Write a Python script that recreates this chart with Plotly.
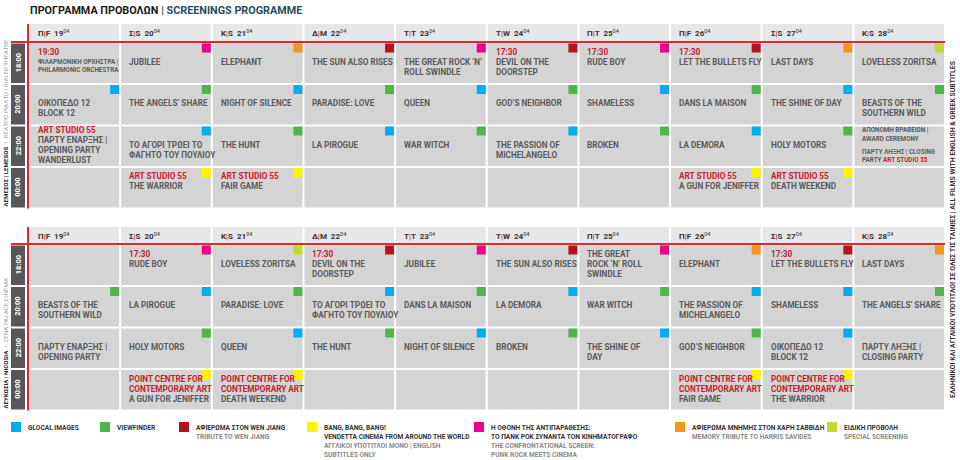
import plotly.graph_objects as go

# ---------------- DATA ----------------
day_abbr = ["Π|F", "Σ|S", "Κ|S", "Δ|M", "Τ|T", "Τ|W", "Π|T", "Π|F", "Σ|S", "Κ|S"]
day_num = ["19", "20", "21", "22", "23", "24", "25", "26", "27", "28"]
month = "04"
times = ["18:00", "20:00", "22:00", "00:00"]

title_gr = "ΠΡΟΓΡΑΜΜΑ ΠΡΟΒΟΛΩΝ"
title_en = "SCREENINGS PROGRAMME"

venue_top = ("ΛΕΜΕΣΟΣ | LEMESOS", "ΘΕΑΤΡΟ ΡΙΑΛΤΟ | RIALTO THEATRE")
venue_bot = ("ΛΕΥΚΩΣΙΑ | NICOSIA", "ZENA PALACE CINEMA")
side_note = "ΕΛΛΗΝΙΚΟΙ ΚΑΙ ΑΓΓΛΙΚΟΙ ΥΠΟΤΙΤΛΟΙ ΣΕ ΟΛΕΣ ΤΙΣ ΤΑΙΝΙΕΣ | ALL FILMS WITH ENGLISH & GREEK SUBTITLES"

# Limassol (top table): red lead line, title, section tag
top_red = [
    ["19:30", "", "", "", "", "17:30", "17:30", "17:30", "", ""],
    ["", "", "", "", "", "", "", "", "", ""],
    ["ART STUDIO 55", "", "", "", "", "", "", "", "", ""],
    ["", "ART STUDIO 55", "ART STUDIO 55", "", "", "", "", "ART STUDIO 55", "ART STUDIO 55", ""],
]
top_title = [
    ["ΦΙΛΑΡΜΟΝΙΚΗ ΟΡΧΗΣΤΡΑ |\nPHILARMONIC ORCHESTRA", "JUBILEE", "ELEPHANT", "THE SUN ALSO RISES",
     "THE GREAT ROCK ‘N’\nROLL SWINDLE", "DEVIL ON THE\nDOORSTEP", "RUDE BOY", "LET THE BULLETS FLY",
     "LAST DAYS", "LOVELESS ZORITSA"],
    ["ΟΙΚΟΠΕΔΟ 12\nBLOCK 12", "THE ANGELS’ SHARE", "NIGHT OF SILENCE", "PARADISE: LOVE", "QUEEN",
     "GOD’S NEIGHBOR", "SHAMELESS", "DANS LA MAISON", "THE SHINE OF DAY", "BEASTS OF THE\nSOUTHERN WILD"],
    ["ΠΑΡΤΥ ΕΝΑΡΞΗΣ |\nOPENING PARTY\nWANDERLUST", "ΤΟ ΑΓΟΡΙ ΤΡΩΕΙ ΤΟ\nΦΑΓΗΤΟ ΤΟΥ ΠΟΥΛΙΟΥ", "THE HUNT",
     "LA PIROGUE", "WAR WITCH", "THE PASSION OF\nMICHELANGELO", "BROKEN", "LA DEMORA", "HOLY MOTORS",
     "ΑΠΟΝΟΜΗ ΒΡΑΒΕΙΩΝ |\nAWARD CEREMONY\n\nΠΑΡΤΥ ΛΗΞΗΣ | CLOSING\nPARTY {ART STUDIO 55}"],
    ["", "THE WARRIOR", "FAIR GAME", "", "", "", "", "A GUN FOR JENIFFER", "DEATH WEEKEND", ""],
]
top_tag = [
    ["", "C", "H", "W", "C", "W", "C", "W", "H", "S"],
    ["G", "V", "G", "V", "G", "V", "G", "V", "G", "V"],
    ["", "G", "V", "G", "V", "G", "V", "G", "V", ""],
    ["", "B", "B", "", "", "", "", "B", "B", ""],
]
top_small = [(0, 0), (2, 9)]

# Nicosia (bottom table)
bot_red = [
    ["", "17:30", "", "17:30", "", "", "", "", "17:30", ""],
    ["", "", "", "", "", "", "", "", "", ""],
    ["", "", "", "", "", "", "", "", "", ""],
    ["", "POINT CENTRE FOR\nCONTEMPORARY ART", "POINT CENTRE FOR\nCONTEMPORARY ART", "", "", "", "",
     "POINT CENTRE FOR\nCONTEMPORARY ART", "POINT CENTRE FOR\nCONTEMPORARY ART", ""],
]
bot_title = [
    ["", "RUDE BOY", "LOVELESS ZORITSA", "DEVIL ON THE\nDOORSTEP", "JUBILEE", "THE SUN ALSO RISES",
     "THE GREAT\nROCK ‘N’ ROLL\nSWINDLE", "ELEPHANT", "LET THE BULLETS FLY", "LAST DAYS"],
    ["BEASTS OF THE\nSOUTHERN WILD", "LA PIROGUE", "PARADISE: LOVE", "ΤΟ ΑΓΟΡΙ ΤΡΩΕΙ ΤΟ\nΦΑΓΗΤΟ ΤΟΥ ΠΟΥΛΙΟΥ",
     "DANS LA MAISON", "LA DEMORA", "WAR WITCH", "THE PASSION OF\nMICHELANGELO", "SHAMELESS",
     "THE ANGELS’ SHARE"],
    ["ΠΑΡΤΥ ΕΝΑΡΞΗΣ |\nOPENING PARTY", "HOLY MOTORS", "QUEEN", "THE HUNT", "NIGHT OF SILENCE", "BROKEN",
     "THE SHINE OF\nDAY", "GOD’S NEIGHBOR", "ΟΙΚΟΠΕΔΟ 12\nBLOCK 12", "ΠΑΡΤΥ ΛΗΞΗΣ |\nCLOSING PARTY"],
    ["", "A GUN FOR JENIFFER", "DEATH WEEKEND", "", "", "", "", "FAIR GAME", "THE WARRIOR", ""],
]
bot_tag = [
    ["", "C", "S", "W", "C", "W", "C", "H", "W", "H"],
    ["V", "G", "V", "G", "V", "G", "V", "G", "G", "V"],
    ["", "V", "G", "V", "G", "V", "G", "V", "G", ""],
    ["", "B", "B", "", "", "", "", "B", "B", ""],
]
bot_small = []

# Legend
legend_keys = ["G", "V", "W", "B", "C", "H", "S"]
legend_bold = [
    ["GLOCAL IMAGES"],
    ["VIEWFINDER"],
    ["ΑΦΙΕΡΩΜΑ ΣΤΟΝ WEN JIANG"],
    ["BANG, BANG, BANG!", "VENDETTA CINEMA FROM AROUND THE WORLD"],
    ["Η ΟΘΟΝΗ ΤΗΣ ΑΝΤΙΠΑΡΑΘΕΣΗΣ:", "ΤΟ ΠΑΝΚ ΡΟΚ ΣΥΝΑΝΤΑ ΤΟΝ ΚΙΝΗΜΑΤΟΓΡΑΦΟ"],
    ["ΑΦΙΕΡΩΜΑ ΜΝΗΜΗΣ ΣΤΟΝ ΧΑΡΗ ΣΑΒΒΙΔΗ"],
    ["ΕΙΔΙΚΗ ΠΡΟΒΟΛΗ"],
]
legend_light = [
    [],
    [],
    ["TRIBUTE TO WEN JIANG"],
    ["ΑΓΓΛΙΚΟΙ ΥΠΟΤΙΤΛΟΙ ΜΟΝΟ | ENGLISH", "SUBTITLES ONLY"],
    ["THE CONFRONTATIONAL SCREEN:", "PUNK ROCK MEETS CINEMA"],
    ["MEMORY TRIBUTE TO HARRIS SAVIDES"],
    ["SPECIAL SCREENING"],
]

# ---------------- STYLE / LAYOUT ----------------
TAG_COLOR = {"G": "#00aeef", "V": "#4db848", "W": "#b5121b", "B": "#fff200",
             "C": "#ec008c", "H": "#f7941d", "S": "#c5d92d"}
RED = "#e0262f"
TXT_RED = "#c8202f"
CELL = "#d4d4d5"
HEAD = "#e7e7e8"
TXT = "#5a5a5a"
DARK = "#575757"
FONT = "Roboto, 'Liberation Sans', sans-serif"
BIG, SMALL = 8.2, 6.3
BIG_LH, SMALL_LH, GAP_LH = 10.0, 8.3, 5.0

X0, X1, NCOL = 28.5, 945.0, 10
CW = (X1 - X0) / NCOL
RH = 41.5
TABLES = [
    dict(head=(24, 41), row0=42.5, red=top_red, title=top_title, tag=top_tag, small=top_small, venue=venue_top),
    dict(head=(227, 243), row0=244.5, red=bot_red, title=bot_title, tag=bot_tag, small=bot_small, venue=venue_bot),
]
LEG_X = [11, 100, 179, 307, 474, 675, 827]
LEG_Y = 422

fig = go.Figure()
shapes, ann = [], []


def rect(x0, y0, x1, y1, color):
    shapes.append(dict(type="rect", xref="x", yref="y", x0=x0, x1=x1, y0=y0, y1=y1,
                       fillcolor=color, line=dict(width=0), layer="below"))


def label(x, y, text, size, color, xanchor="left", angle=0, yanchor="middle"):
    ann.append(dict(x=x, y=y, xref="x", yref="y", xanchor=xanchor, yanchor=yanchor, align="left",
                    showarrow=False, text=text, textangle=angle,
                    font=dict(family=FONT, size=size, color=color)))


# Title
label(X0 - 0.5, 10.5,
      f"<b><span style='color:#1a1a1a'>{title_gr}</span>"
      f"<span style='color:#24505c'> | {title_en}</span></b>", 10.8, "#1a1a1a")

for t in TABLES:
    hy0, hy1 = t["head"]
    nrow = len(times)
    ybot = t["row0"] + nrow * RH
    # header cells
    for c in range(NCOL):
        cx0 = X0 + c * CW
        rect(cx0 + 1, hy0, cx0 + CW - 1, hy1, HEAD)
        a, b = day_abbr[c].split("|")
        label(cx0 + 7, (hy0 + hy1) / 2 + 0.5,
              f"<b>{a}<span style='color:{RED}'>|</span>{b}  {day_num[c]}</b><sup>{month}</sup>",
              8, "#333333")
    # rows
    for r in range(nrow):
        ry0 = t["row0"] + r * RH + 1
        ry1 = t["row0"] + (r + 1) * RH - 1
        rect(11, ry0, 25, ry1, DARK)
        label(18, (ry0 + ry1) / 2, f"<b>{times[r]}</b>", 7.5, "white", xanchor="center", angle=-90)
        for c in range(NCOL):
            cx0 = X0 + c * CW + 1
            cx1 = X0 + (c + 1) * CW - 1
            rect(cx0, ry0, cx1, ry1, CELL)
            tag = t["tag"][r][c]
            if tag:
                rect(cx1 - 9, ry0, cx1, ry0 + 9, TAG_COLOR[tag])
            red = t["red"][r][c]
            title = t["title"][r][c]
            small = (r, c) in t["small"]
            red_lines = red.split("\n") if red else []
            title_lines = title.split("\n") if title else []
            lines = [(s, TXT_RED, BIG, BIG_LH) for s in red_lines]
            for s in title_lines:
                if s == "":
                    lines.append(("", TXT, SMALL, GAP_LH))
                elif small:
                    lines.append((s, TXT, SMALL, SMALL_LH))
                else:
                    lines.append((s, TXT, BIG, BIG_LH))
            if not lines:
                continue
            # first title line sits at a fixed offset; red leads stack above it
            n_red = len(red_lines)
            first_title = ry0 + 18
            ys = []
            yy = first_title - sum(l[3] for l in lines[:n_red])
            for l in lines:
                ys.append(yy)
                yy += l[3]
            if ys[0] < ry0 + 6 or ys[-1] > ry1 - 6:
                total = sum(l[3] for l in lines)
                yy = (ry0 + ry1) / 2 - total / 2 - 1
                ys = []
                for l in lines:
                    ys.append(yy + l[3] / 2)
                    yy += l[3]
            for (s, col, sz, _), y in zip(lines, ys):
                if not s:
                    continue
                s = s.replace("{ART STUDIO 55}", f"<span style='color:{TXT_RED}'>ART STUDIO 55</span>")
                label(cx0 + 6, y, f"<b>{s}</b>", sz, col)
    # red lines
    shapes.append(dict(type="line", xref="x", yref="y", x0=11, x1=X1, y0=hy1 + 1, y1=hy1 + 1,
                       line=dict(color=RED, width=2)))
    shapes.append(dict(type="line", xref="x", yref="y", x0=X0 - 0.5, x1=X0 - 0.5, y0=hy0, y1=ybot,
                       line=dict(color=RED, width=2)))
    # venue label
    v1, v2 = t["venue"]
    label(5.5, ybot, f"<b><span style='color:#222'>{v1}</span></b><span style='color:#a0a0a0'>  •  {v2}</span>",
          6.2, "#222222", xanchor="center", angle=-90, yanchor="bottom")

# right side note
label(953, 230, f"<b>{side_note}</b>", 6.9, "#333333", xanchor="center", angle=-90)

# legend
for i, k in enumerate(legend_keys):
    lx = LEG_X[i]
    rect(lx, LEG_Y, lx + 10, LEG_Y + 10, TAG_COLOR[k])
    entries = [(s, "#333333") for s in legend_bold[i]] + [(s, "#8a8a8a") for s in legend_light[i]]
    for j, (s, col) in enumerate(entries):
        label(lx + 15, LEG_Y + 5.5 + 9 * j, f"<b>{s}</b>", 6.6, col)

fig.update_layout(
    width=960, height=460, margin=dict(l=0, r=0, t=0, b=0),
    paper_bgcolor="white", plot_bgcolor="white",
    xaxis=dict(range=[0, 960], visible=False, fixedrange=True),
    yaxis=dict(range=[460, 0], visible=False, fixedrange=True),
    shapes=shapes, annotations=ann, showlegend=False,
)
fig.write_html("out.html", config={"displayModeBar": False},
               post_script="document.body.style.margin='0';document.body.style.overflow='hidden';")
